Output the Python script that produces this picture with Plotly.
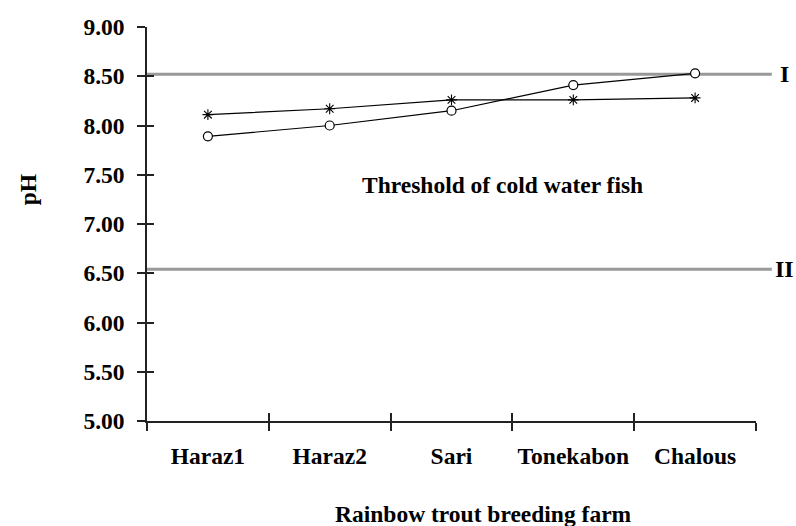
import plotly.graph_objs as go

farms = ["Haraz1", "Haraz2", "Sari", "Tonekabon", "Chalous"]
phCircle = [7.89, 8.00, 8.15, 8.41, 8.53]
phStar = [8.11, 8.17, 8.26, 8.26, 8.28]
thresholdI = 8.52
thresholdII = 6.54
yTicks = [5.0, 5.5, 6.0, 6.5, 7.0, 7.5, 8.0, 8.5, 9.0]
xBounds = [-0.5, 0.5, 1.5, 2.5, 3.5, 4.5]

FONT = "Liberation Serif"
AXIS_COLOR = "#222222"
SIZE = 23.5

fig = go.Figure().add_trace(
    go.Scatter(
        x = farms,
        y = phStar,
        mode = "lines+markers",
        line = {"color": "black", "width": 1.2},
        marker = {"symbol": "asterisk-open", "size": 9, "line": {"color": "black", "width": 1.1}},
        showlegend = False,
    )
).add_trace(
    go.Scatter(
        x = farms,
        y = phCircle,
        mode = "lines+markers",
        line = {"color": "black", "width": 1.2},
        marker = {"symbol": "circle", "size": 9, "color": "white", "line": {"color": "black", "width": 1.2}},
        showlegend = False,
    )
).add_trace(
    # invisible trace so the overlay axes (inside half of crossing ticks) get drawn
    go.Scatter(
        x = [xBounds[0]],
        y = [yTicks[0]],
        xaxis = "x2",
        yaxis = "y2",
        mode = "markers",
        marker = {"opacity": 0},
        showlegend = False,
        hoverinfo = "skip",
    )
)

# threshold lines, they run a bit past the end of the x axis
for level, label in [(thresholdI, "I"), (thresholdII, "II")]:
    fig.add_shape(
        type = "line",
        xref = "paper", yref = "y",
        x0 = 0, x1 = 1.026,
        y0 = level, y1 = level,
        line = {"color": "#999999", "width": 3},
        layer = "below",
    )
    fig.add_annotation(
        text = "<b>%s</b>" % label,
        xref = "paper", yref = "y",
        x = 1.047, y = level,
        xanchor = "center", yanchor = "middle",
        showarrow = False,
        font = {"family": FONT, "size": 24, "color": "black"},
    )

fig.update_layout(
    width = 796,
    height = 526,
    plot_bgcolor = "white",
    paper_bgcolor = "white",
    font = {"family": FONT, "size": SIZE, "color": "black"},
    margin = {"l": 147, "r": 40, "t": 27, "b": 105, "pad": 0},
    xaxis = {
        "type": "category",
        "categoryorder": "array",
        "categoryarray": farms,
        "range": [-0.5, 4.5],
        "tickson": "boundaries",
        "ticks": "outside",
        "ticklen": 8,
        "tickwidth": 1.5,
        "tickcolor": AXIS_COLOR,
        "showline": True,
        "linecolor": AXIS_COLOR,
        "linewidth": 1.5,
        "showgrid": False,
        "zeroline": False,
        "tickfont": {"family": FONT, "size": SIZE, "color": "black"},
        "ticktext": ["<b>%s</b>" % f for f in farms],
        "tickvals": farms,
        "ticklabelstandoff": 13,
    },
    yaxis = {
        "range": [5, 9],
        "tickvals": yTicks,
        "ticktext": ["<b>%.2f</b>" % v for v in yTicks],
        "ticks": "outside",
        "ticklen": 8,
        "tickwidth": 1.5,
        "tickcolor": AXIS_COLOR,
        "showline": True,
        "linecolor": AXIS_COLOR,
        "linewidth": 1.5,
        "showgrid": False,
        "zeroline": False,
        "tickfont": {"family": FONT, "size": SIZE, "color": "black"},
        "ticklabelstandoff": 8,
    },
    xaxis2 = {
        "overlaying": "x",
        "anchor": "y2",
        "side": "bottom",
        "range": [-0.5, 4.5],
        "tickvals": xBounds,
        "ticks": "inside",
        "ticklen": 8,
        "tickwidth": 1.5,
        "tickcolor": AXIS_COLOR,
        "showticklabels": False,
        "showgrid": False,
        "zeroline": False,
        "showline": False,
    },
    yaxis2 = {
        "overlaying": "y",
        "anchor": "x2",
        "side": "left",
        "range": [5, 9],
        "tickvals": yTicks,
        "ticks": "inside",
        "ticklen": 7,
        "tickwidth": 1.5,
        "tickcolor": AXIS_COLOR,
        "showticklabels": False,
        "showgrid": False,
        "zeroline": False,
        "showline": False,
    },
    annotations = list(fig.layout.annotations) + [
        {
            "text": "<b>Threshold of cold water fish</b>",
            "xref": "paper", "yref": "paper",
            "x": 0.583, "y": 0.599,
            "xanchor": "center", "yanchor": "middle",
            "showarrow": False,
            "font": {"family": FONT, "size": SIZE, "color": "black"},
        },
        {
            "text": "<b>Rainbow trout breeding farm</b>",
            "xref": "paper", "yref": "paper",
            "x": 0.553, "y": -0.237,
            "xanchor": "center", "yanchor": "middle",
            "showarrow": False,
            "font": {"family": FONT, "size": SIZE, "color": "black"},
        },
        {
            "text": "<b>pH</b>",
            "xref": "paper", "yref": "paper",
            "x": -0.195, "y": 0.586,
            "xanchor": "center", "yanchor": "middle",
            "textangle": -90,
            "showarrow": False,
            "font": {"family": FONT, "size": SIZE, "color": "black"},
        },
    ],
    hovermode = False,
)

# drop the default body margin so the figure sits at the page origin
fig.write_html(
    "out.html",
    config = {"displayModeBar": False},
    post_script = "document.body.style.margin = '0px';",
)
